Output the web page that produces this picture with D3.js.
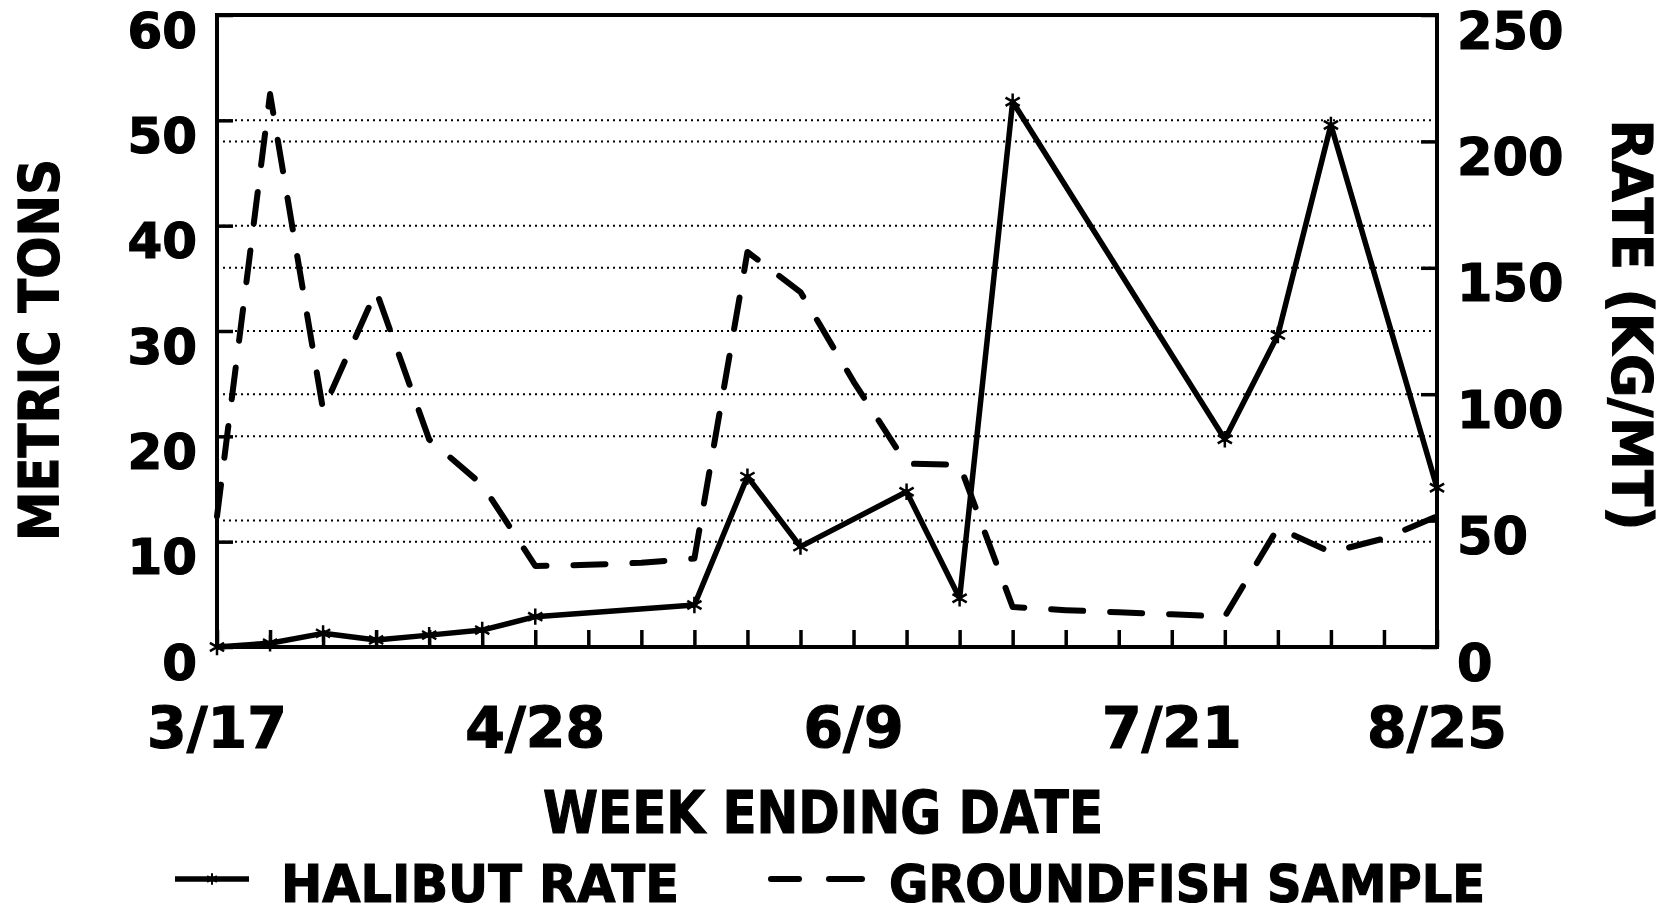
<!DOCTYPE html>
<html>
<head>
  <title>Halibut Rate and Groundfish Sample</title>
  <script src="https://d3js.org/d3.v7.min.js"></script>
  <style>
    body {
      margin: 0;
      background: #fff;
    }

    svg {
      display: block;
    }

    text {
      font-family: 'DejaVu Sans', sans-serif;
      font-weight: bold;
      fill: #000;
      stroke: #000;
      stroke-width: 1.2px;
    }
  </style>
</head>
<body>
  <div id="chart"></div>

  <script>
    // Weeks are counted from the week ending 3/17 (week 0) to 8/25 (week 23)
    const allWeeks = [0, 1, 2, 3, 4, 5, 6, 7, 8, 9, 10, 11, 12, 13, 14, 15, 16, 17, 18, 19, 20, 21, 22, 23];
    const tickWeeks = [0, 6, 12, 18, 23];
    const tickLabels = ["3/17", "4/28", "6/9", "7/21", "8/25"];

    const leftTicks = [0, 10, 20, 30, 40, 50, 60];
    const rightTicks = [0, 50, 100, 150, 200, 250];

    // Halibut rate (kg/mt), right axis - only the weeks that carry a marker
    const halibutWeeks = [0, 1, 2, 3, 4, 5, 6, 9, 10, 11, 13, 14, 15, 19, 20, 21, 23];
    const halibutRate = [0, 1.5, 5.4, 2.8, 4.7, 6.7, 12.0, 16.6, 67.4, 39.7, 61.4, 19.3, 215.7, 82.2, 123.4, 206.5, 63.0];

    // Groundfish sample (metric tons), left axis
    const sampleTons = [12.4, 52.5, 22.5, 33.8, 19.7, 15.4, 7.7, 7.8, 8.0, 8.4, 37.5, 33.7, 25.2, 17.4, 17.3,
                        3.8, 3.5, 3.3, 3.1, 2.9, 11.3, 9.0, 10.3, 12.4];

    const width = 1663;
    const height = 916;
    const plotLeft = 217, plotRight = 1437, plotTop = 15, plotBottom = 647;

    const x = d3.scaleLinear().domain([0, 23]).range([plotLeft, plotRight]);
    const yLeft = d3.scaleLinear().domain([0, 60]).range([plotBottom, plotTop]);
    const yRight = d3.scaleLinear().domain([0, 250]).range([plotBottom, plotTop]);

    const svg = d3.select("#chart")
      .append("svg")
      .attr("width", width)
      .attr("height", height);

    // Dotted grid lines for both axes
    const gridLeft = leftTicks.filter(function(d) { return d > 0 && d < 60; });
    const gridRight = rightTicks.filter(function(d) { return d > 0 && d < 250; });

    svg.append("g")
      .selectAll("line")
      .data(gridLeft.map(function(d) { return yLeft(d); }).concat(gridRight.map(function(d) { return yRight(d); })))
      .join("line")
      .attr("x1", plotLeft)
      .attr("x2", plotRight)
      .attr("y1", function(d) { return d; })
      .attr("y2", function(d) { return d; })
      .attr("stroke", "#000")
      .attr("stroke-width", 2)
      .attr("stroke-dasharray", "2,4");

    // Bottom ticks, one per week
    svg.append("g")
      .attr("transform", "translate(0," + plotBottom + ")")
      .call(d3.axisBottom(x).tickValues(allWeeks).tickSize(-17).tickFormat(""))
      .call(function(g) { g.select(".domain").remove(); })
      .selectAll("line")
      .attr("stroke-width", 3.5);

    // Left axis
    const axisL = svg.append("g")
      .attr("transform", "translate(" + plotLeft + ",0)")
      .call(d3.axisLeft(yLeft).tickValues(leftTicks).tickSize(-16).tickFormat(d3.format("d")))
      .attr("font-family", null)
      .attr("font-size", null);
    axisL.select(".domain").remove();
    axisL.selectAll("line").attr("stroke-width", 3.5);
    axisL.selectAll("text")
      .attr("x", -20)
      .attr("y", 32)
      .attr("dy", null)
      .style("font-size", "50px");

    // Right axis
    const axisR = svg.append("g")
      .attr("transform", "translate(" + plotRight + ",0)")
      .call(d3.axisRight(yRight).tickValues(rightTicks).tickSize(-16).tickFormat(d3.format("d")))
      .attr("font-family", null)
      .attr("font-size", null);
    axisR.select(".domain").remove();
    axisR.selectAll("line").attr("stroke-width", 3.5);
    axisR.selectAll("text")
      .attr("x", 20)
      .attr("y", 33)
      .attr("dy", null)
      .style("font-size", "51px");

    // Frame
    svg.append("rect")
      .attr("x", plotLeft)
      .attr("y", plotTop)
      .attr("width", plotRight - plotLeft)
      .attr("height", plotBottom - plotTop)
      .attr("fill", "none")
      .attr("stroke", "#000")
      .attr("stroke-width", 4);

    // Date labels
    svg.append("g")
      .selectAll("text")
      .data(tickWeeks)
      .join("text")
      .attr("x", function(d) { return x(d); })
      .attr("y", 748)
      .attr("text-anchor", "middle")
      .style("font-size", "57px")
      .text(function(d, i) { return tickLabels[i]; });

    // Groundfish sample (dashed)
    const sampleData = allWeeks.map(function(w, i) { return { week: w, value: sampleTons[i] }; });
    svg.append("path")
      .datum(sampleData)
      .attr("fill", "none")
      .attr("stroke", "#000")
      .attr("stroke-width", 6)
      .attr("stroke-linecap", "round")
      .attr("stroke-linejoin", "round")
      .attr("stroke-dasharray", "32,27")
      .attr("d", d3.line()
        .x(function(d) { return x(d.week); })
        .y(function(d) { return yLeft(d.value); }));

    // Halibut rate (solid with asterisks)
    const halibutData = halibutWeeks.map(function(w, i) { return { week: w, value: halibutRate[i] }; });
    svg.append("path")
      .datum(halibutData)
      .attr("fill", "none")
      .attr("stroke", "#000")
      .attr("stroke-width", 5.5)
      .attr("stroke-linejoin", "round")
      .attr("d", d3.line()
        .x(function(d) { return x(d.week); })
        .y(function(d) { return yRight(d.value); }));

    const star = d3.symbol().type(d3.symbolAsterisk).size(190);
    svg.append("g")
      .selectAll("path")
      .data(halibutData)
      .join("path")
      .attr("transform", function(d) { return "translate(" + x(d.week) + "," + yRight(d.value) + ")"; })
      .attr("d", star)
      .attr("fill", "none")
      .attr("stroke", "#000")
      .attr("stroke-width", 2.5);

    // Axis titles
    svg.append("text")
      .attr("transform", "translate(58,350) rotate(-90)")
      .attr("text-anchor", "middle")
      .attr("textLength", 382)
      .attr("lengthAdjust", "spacingAndGlyphs")
      .style("font-size", "56px")
      .text("METRIC TONS");

    svg.append("text")
      .attr("transform", "translate(1613,325) rotate(90)")
      .attr("text-anchor", "middle")
      .attr("textLength", 411)
      .attr("lengthAdjust", "spacingAndGlyphs")
      .style("font-size", "55px")
      .text("RATE (KG/MT)");

    svg.append("text")
      .attr("x", 823)
      .attr("y", 833)
      .attr("text-anchor", "middle")
      .attr("textLength", 560)
      .attr("lengthAdjust", "spacingAndGlyphs")
      .style("font-size", "58px")
      .text("WEEK ENDING DATE");

    // Legend
    const legend = svg.append("g");
    legend.append("line")
      .attr("x1", 175).attr("x2", 249)
      .attr("y1", 879).attr("y2", 879)
      .attr("stroke", "#000")
      .attr("stroke-width", 5.5);
    legend.append("path")
      .attr("transform", "translate(212,879)")
      .attr("d", d3.symbol().type(d3.symbolAsterisk).size(90))
      .attr("fill", "none")
      .attr("stroke", "#000")
      .attr("stroke-width", 2);
    legend.append("text")
      .attr("x", 281)
      .attr("y", 902)
      .attr("textLength", 398)
      .attr("lengthAdjust", "spacingAndGlyphs")
      .style("font-size", "52px")
      .text("HALIBUT RATE");

    legend.selectAll(".dash")
      .data([[771, 799], [829, 862]])
      .join("line")
      .attr("class", "dash")
      .attr("x1", function(d) { return d[0]; })
      .attr("x2", function(d) { return d[1]; })
      .attr("y1", 879).attr("y2", 879)
      .attr("stroke", "#000")
      .attr("stroke-width", 6)
      .attr("stroke-linecap", "round");
    legend.append("text")
      .attr("x", 889)
      .attr("y", 902)
      .attr("textLength", 596)
      .attr("lengthAdjust", "spacingAndGlyphs")
      .style("font-size", "52px")
      .text("GROUNDFISH SAMPLE");
  </script>
</body>
</html>
